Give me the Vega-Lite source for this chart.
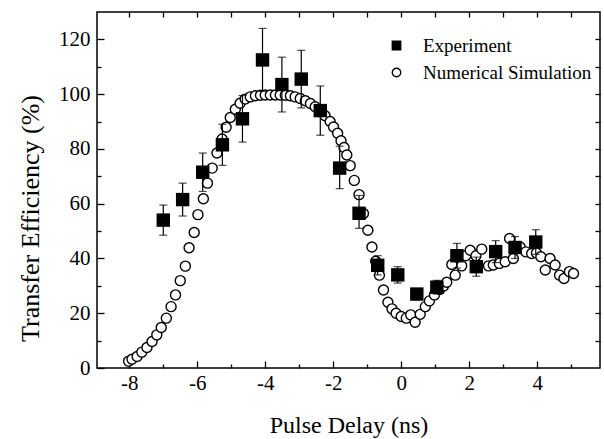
{
  "$schema": "https://vega.github.io/schema/vega-lite/v6.json",
  "width": 503,
  "height": 356,
  "autosize": "none",
  "padding": {"left": 97, "top": 12, "right": 4, "bottom": 71},
  "background": "white",
  "config": {
    "view": {"stroke": "black", "strokeWidth": 1.5},
    "font": "Liberation Serif",
    "axis": {
      "domain": false, "grid": false, "tickColor": "black", "tickWidth": 1.3,
      "labelColor": "black", "titleColor": "black",
      "labelFont": "Liberation Serif", "titleFont": "Liberation Serif",
      "labelFontSize": 21, "titleFontSize": 25, "titleFontWeight": "normal"
    },
    "legend": {
      "labelFont": "Liberation Serif", "labelFontSize": 19, "labelColor": "black", "labelLimit": 0,
      "symbolSize": 72, "symbolStrokeWidth": 1.3, "rowPadding": 7, "labelOffset": 17, "padding": 0
    }
  },
  "datasets": {
    "exp": [
      {"t": -7.0, "eff": 54, "lo": 48.5, "hi": 59.5, "series": "Experiment"},
      {"t": -6.43, "eff": 61.5, "lo": 55.5, "hi": 67.5, "series": "Experiment"},
      {"t": -5.84, "eff": 71.5, "lo": 64.5, "hi": 78.5, "series": "Experiment"},
      {"t": -5.26, "eff": 81.5, "lo": 74, "hi": 89, "series": "Experiment"},
      {"t": -4.67, "eff": 91, "lo": 82.5, "hi": 99.5, "series": "Experiment"},
      {"t": -4.08, "eff": 112.5, "lo": 101, "hi": 124, "series": "Experiment"},
      {"t": -3.51, "eff": 103.5, "lo": 93.5, "hi": 113.5, "series": "Experiment"},
      {"t": -2.94, "eff": 105.5, "lo": 95, "hi": 116, "series": "Experiment"},
      {"t": -2.38, "eff": 94, "lo": 85, "hi": 103, "series": "Experiment"},
      {"t": -1.81, "eff": 73, "lo": 65.5, "hi": 81, "series": "Experiment"},
      {"t": -1.24, "eff": 56.5, "lo": 51, "hi": 63, "series": "Experiment"},
      {"t": -0.69, "eff": 37.5, "lo": 34, "hi": 41, "series": "Experiment"},
      {"t": -0.1, "eff": 34, "lo": 31, "hi": 37, "series": "Experiment"},
      {"t": 0.46, "eff": 27, "lo": 25, "hi": 29, "series": "Experiment"},
      {"t": 1.05, "eff": 29.5, "lo": 27, "hi": 32, "series": "Experiment"},
      {"t": 1.64, "eff": 41, "lo": 36.5, "hi": 45.5, "series": "Experiment"},
      {"t": 2.21, "eff": 37, "lo": 33.5, "hi": 40.5, "series": "Experiment"},
      {"t": 2.78, "eff": 42.5, "lo": 38.5, "hi": 46.5, "series": "Experiment"},
      {"t": 3.35, "eff": 44, "lo": 40, "hi": 48, "series": "Experiment"},
      {"t": 3.96, "eff": 46, "lo": 41.5, "hi": 50.5, "series": "Experiment"}
    ],
    "sim": [
      {"t": -8.02, "eff": 2.5, "series": "Numerical Simulation"},
      {"t": -7.92, "eff": 3.2, "series": "Numerical Simulation"},
      {"t": -7.77, "eff": 4.2, "series": "Numerical Simulation"},
      {"t": -7.63, "eff": 5.8, "series": "Numerical Simulation"},
      {"t": -7.48, "eff": 7.5, "series": "Numerical Simulation"},
      {"t": -7.33, "eff": 9.7, "series": "Numerical Simulation"},
      {"t": -7.19, "eff": 12.1, "series": "Numerical Simulation"},
      {"t": -7.06, "eff": 14.8, "series": "Numerical Simulation"},
      {"t": -6.91, "eff": 18.2, "series": "Numerical Simulation"},
      {"t": -6.77, "eff": 22.4, "series": "Numerical Simulation"},
      {"t": -6.64, "eff": 26.7, "series": "Numerical Simulation"},
      {"t": -6.5, "eff": 31.9, "series": "Numerical Simulation"},
      {"t": -6.35, "eff": 37.2, "series": "Numerical Simulation"},
      {"t": -6.24, "eff": 43.9, "series": "Numerical Simulation"},
      {"t": -6.09, "eff": 49.5, "series": "Numerical Simulation"},
      {"t": -5.98, "eff": 56.0, "series": "Numerical Simulation"},
      {"t": -5.82, "eff": 61.8, "series": "Numerical Simulation"},
      {"t": -5.7, "eff": 67.5, "series": "Numerical Simulation"},
      {"t": -5.56, "eff": 73.0, "series": "Numerical Simulation"},
      {"t": -5.42, "eff": 78.5, "series": "Numerical Simulation"},
      {"t": -5.27, "eff": 83.6, "series": "Numerical Simulation"},
      {"t": -5.15, "eff": 87.9, "series": "Numerical Simulation"},
      {"t": -5.03, "eff": 91.5, "series": "Numerical Simulation"},
      {"t": -4.88, "eff": 94.5, "series": "Numerical Simulation"},
      {"t": -4.74, "eff": 96.7, "series": "Numerical Simulation"},
      {"t": -4.59, "eff": 98.2, "series": "Numerical Simulation"},
      {"t": -4.44, "eff": 99.0, "series": "Numerical Simulation"},
      {"t": -4.29, "eff": 99.4, "series": "Numerical Simulation"},
      {"t": -4.14, "eff": 99.6, "series": "Numerical Simulation"},
      {"t": -4.0, "eff": 99.7, "series": "Numerical Simulation"},
      {"t": -3.85, "eff": 99.7, "series": "Numerical Simulation"},
      {"t": -3.7, "eff": 99.7, "series": "Numerical Simulation"},
      {"t": -3.56, "eff": 99.7, "series": "Numerical Simulation"},
      {"t": -3.41, "eff": 99.6, "series": "Numerical Simulation"},
      {"t": -3.26, "eff": 99.4, "series": "Numerical Simulation"},
      {"t": -3.12, "eff": 99.0, "series": "Numerical Simulation"},
      {"t": -2.97, "eff": 98.4, "series": "Numerical Simulation"},
      {"t": -2.82, "eff": 97.6, "series": "Numerical Simulation"},
      {"t": -2.67, "eff": 96.6, "series": "Numerical Simulation"},
      {"t": -2.53, "eff": 95.4, "series": "Numerical Simulation"},
      {"t": -2.38, "eff": 93.9, "series": "Numerical Simulation"},
      {"t": -2.24, "eff": 92.1, "series": "Numerical Simulation"},
      {"t": -2.09, "eff": 90.0, "series": "Numerical Simulation"},
      {"t": -1.99, "eff": 88.0, "series": "Numerical Simulation"},
      {"t": -1.87, "eff": 85.7, "series": "Numerical Simulation"},
      {"t": -1.77, "eff": 83.0, "series": "Numerical Simulation"},
      {"t": -1.68, "eff": 80.5, "series": "Numerical Simulation"},
      {"t": -1.6, "eff": 77.8, "series": "Numerical Simulation"},
      {"t": -1.5, "eff": 73.9, "series": "Numerical Simulation"},
      {"t": -1.38, "eff": 68.5, "series": "Numerical Simulation"},
      {"t": -1.24, "eff": 63.3, "series": "Numerical Simulation"},
      {"t": -1.11, "eff": 56.4, "series": "Numerical Simulation"},
      {"t": -0.98, "eff": 50.3, "series": "Numerical Simulation"},
      {"t": -0.86, "eff": 44.2, "series": "Numerical Simulation"},
      {"t": -0.75, "eff": 39.0, "series": "Numerical Simulation"},
      {"t": -0.64, "eff": 33.9, "series": "Numerical Simulation"},
      {"t": -0.52, "eff": 28.5, "series": "Numerical Simulation"},
      {"t": -0.39, "eff": 24.0, "series": "Numerical Simulation"},
      {"t": -0.27, "eff": 21.6, "series": "Numerical Simulation"},
      {"t": -0.15, "eff": 20.0, "series": "Numerical Simulation"},
      {"t": 0.0, "eff": 18.8, "series": "Numerical Simulation"},
      {"t": 0.15, "eff": 18.2, "series": "Numerical Simulation"},
      {"t": 0.28, "eff": 19.4, "series": "Numerical Simulation"},
      {"t": 0.41, "eff": 16.7, "series": "Numerical Simulation"},
      {"t": 0.56, "eff": 19.6, "series": "Numerical Simulation"},
      {"t": 0.71, "eff": 22.4, "series": "Numerical Simulation"},
      {"t": 0.83, "eff": 24.5, "series": "Numerical Simulation"},
      {"t": 0.98, "eff": 26.7, "series": "Numerical Simulation"},
      {"t": 1.13, "eff": 28.7, "series": "Numerical Simulation"},
      {"t": 1.25, "eff": 30.0, "series": "Numerical Simulation"},
      {"t": 1.34, "eff": 31.3, "series": "Numerical Simulation"},
      {"t": 1.49, "eff": 37.8, "series": "Numerical Simulation"},
      {"t": 1.59, "eff": 33.9, "series": "Numerical Simulation"},
      {"t": 1.78, "eff": 37.3, "series": "Numerical Simulation"},
      {"t": 1.9, "eff": 41.0, "series": "Numerical Simulation"},
      {"t": 2.03, "eff": 43.0, "series": "Numerical Simulation"},
      {"t": 2.2, "eff": 41.0, "series": "Numerical Simulation"},
      {"t": 2.37, "eff": 43.4, "series": "Numerical Simulation"},
      {"t": 2.57, "eff": 37.3, "series": "Numerical Simulation"},
      {"t": 2.71, "eff": 37.6, "series": "Numerical Simulation"},
      {"t": 2.89, "eff": 38.2, "series": "Numerical Simulation"},
      {"t": 3.06, "eff": 38.8, "series": "Numerical Simulation"},
      {"t": 3.19, "eff": 47.3, "series": "Numerical Simulation"},
      {"t": 3.3, "eff": 40.0, "series": "Numerical Simulation"},
      {"t": 3.5, "eff": 44.2, "series": "Numerical Simulation"},
      {"t": 3.67, "eff": 42.4, "series": "Numerical Simulation"},
      {"t": 3.84, "eff": 41.8, "series": "Numerical Simulation"},
      {"t": 3.98, "eff": 42.0, "series": "Numerical Simulation"},
      {"t": 4.11, "eff": 40.6, "series": "Numerical Simulation"},
      {"t": 4.24, "eff": 35.8, "series": "Numerical Simulation"},
      {"t": 4.38, "eff": 40.0, "series": "Numerical Simulation"},
      {"t": 4.53, "eff": 37.6, "series": "Numerical Simulation"},
      {"t": 4.66, "eff": 33.9, "series": "Numerical Simulation"},
      {"t": 4.79, "eff": 32.7, "series": "Numerical Simulation"},
      {"t": 4.95, "eff": 35.2, "series": "Numerical Simulation"},
      {"t": 5.07, "eff": 34.5, "series": "Numerical Simulation"}
    ]
  },
  "layer": [
    {
      "data": {"name": "sim"},
      "mark": {"type": "point", "shape": "circle", "filled": true, "strokeWidth": 1.4, "size": 100, "opacity": 1},
      "encoding": {
        "x": {"field": "t", "type": "quantitative", "scale": {"domain": [-8.95, 5.85], "nice": false, "zero": false},
          "axis": {"orient": "bottom", "values": [-8, -6, -4, -2, 0, 2, 4], "tickSize": -7, "labelPadding": 11, "labelExpr": "'' + datum.value", "title": "Pulse Delay (ns)", "titleFontSize": 24, "titleY": 64, "titleBaseline": "alphabetic"}},
        "y": {"field": "eff", "type": "quantitative", "scale": {"domain": [0, 130], "nice": false},
          "axis": {"orient": "left", "values": [0, 20, 40, 60, 80, 100, 120], "tickSize": -7, "labelPadding": 14, "title": "Transfer Efficiency (%)", "titleFontSize": 26, "titleX": -67, "titleY": 206, "titleAngle": -90, "titleAlign": "center", "titleBaseline": "middle"}},
        "shape": {"field": "series", "type": "nominal", "scale": {"domain": ["Experiment", "Numerical Simulation"], "range": ["square", "circle"]},
          "legend": {"orient": "none", "legendX": 290, "legendY": 24, "title": null}},
        "fill": {"field": "series", "type": "nominal", "scale": {"domain": ["Experiment", "Numerical Simulation"], "range": ["black", "white"]},
          "legend": {"orient": "none", "legendX": 290, "legendY": 24, "title": null}},
        "stroke": {"field": "series", "type": "nominal", "scale": {"domain": ["Experiment", "Numerical Simulation"], "range": ["black", "black"]},
          "legend": {"orient": "none", "legendX": 290, "legendY": 24, "title": null}}
      }
    },
    {
      "data": {"name": "exp"},
      "mark": {"type": "rule", "color": "black", "strokeWidth": 1.2},
      "encoding": {
        "x": {"field": "t", "type": "quantitative",
          "axis": {"orient": "top", "values": [-8, -7, -6, -5, -4, -3, -2, -1, 0, 1, 2, 3, 4, 5], "tickSize": -5, "labels": false, "title": null}},
        "y": {"field": "lo", "type": "quantitative",
          "axis": {"orient": "right", "values": [10, 20, 30, 40, 50, 60, 70, 80, 90, 100, 110, 120], "tickSize": -5, "labels": false, "title": null}},
        "y2": {"field": "hi"}
      }
    },
    {
      "data": {"name": "exp"},
      "mark": {"type": "tick", "orient": "horizontal", "color": "black", "size": 8, "thickness": 1.2},
      "encoding": {
        "x": {"field": "t", "type": "quantitative",
          "axis": {"orient": "bottom", "values": [-7, -5, -3, -1, 1, 3, 5], "tickSize": -4, "labels": false, "title": null}},
        "y": {"field": "hi", "type": "quantitative",
          "axis": {"orient": "left", "values": [10, 30, 50, 70, 90, 110], "tickSize": -4, "labels": false, "title": null}}
      }
    },
    {
      "data": {"name": "exp"},
      "mark": {"type": "tick", "orient": "horizontal", "color": "black", "size": 8, "thickness": 1.2},
      "encoding": {
        "x": {"field": "t", "type": "quantitative", "axis": null},
        "y": {"field": "lo", "type": "quantitative", "axis": null}
      }
    },
    {
      "data": {"name": "exp"},
      "mark": {"type": "point", "filled": true, "size": 180, "opacity": 1, "strokeWidth": 0},
      "encoding": {
        "x": {"field": "t", "type": "quantitative", "axis": null},
        "y": {"field": "eff", "type": "quantitative", "axis": null},
        "shape": {"field": "series", "type": "nominal", "legend": null},
        "fill": {"field": "series", "type": "nominal", "legend": null}
      }
    }
  ],
  "resolve": {"axis": {"x": "independent", "y": "independent"}}
}
